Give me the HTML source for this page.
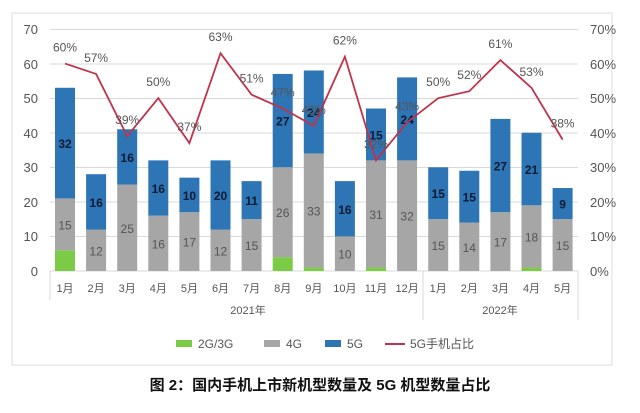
<!DOCTYPE html>
<html><head><meta charset="utf-8"><style>
body{margin:0;background:#fff;width:640px;height:408px;overflow:hidden}
text{font-family:"Liberation Sans","Noto Sans CJK SC",sans-serif}
</style></head><body>
<svg width="640" height="408" xmlns="http://www.w3.org/2000/svg">
<rect x="12" y="13" width="600" height="352" fill="#fff" stroke="#ddd"/>
<g stroke="#d9d9d9" stroke-width="1">
<line x1="50" x2="578" y1="29.5" y2="29.5"/><line x1="50" x2="578" y1="64" y2="64"/>
<line x1="50" x2="578" y1="98.5" y2="98.5"/><line x1="50" x2="578" y1="133" y2="133"/>
<line x1="50" x2="578" y1="167.5" y2="167.5"/><line x1="50" x2="578" y1="202" y2="202"/>
<line x1="50" x2="578" y1="236.5" y2="236.5"/>
<line x1="50" x2="578" y1="271" y2="271"/>
<line x1="50" x2="50" y1="271" y2="300"/><line x1="423" x2="423" y1="271" y2="320"/><line x1="578" x2="578" y1="271" y2="320"/>
</g>
<g font-size="13" fill="#555" text-anchor="end">
<text x="38" y="34">70</text><text x="38" y="69">60</text><text x="38" y="103">50</text><text x="38" y="138">40</text><text x="38" y="172">30</text><text x="38" y="207">20</text><text x="38" y="241">10</text><text x="38" y="276">0</text>
</g>
<g font-size="13" fill="#555">
<text x="590" y="34">70%</text><text x="590" y="69">60%</text><text x="590" y="103">50%</text><text x="590" y="138">40%</text><text x="590" y="172">30%</text><text x="590" y="207">20%</text><text x="590" y="241">10%</text><text x="590" y="276">0%</text>
</g>
<g id="bars"></g>
<script>
var g=document.getElementById('bars'),ns='http://www.w3.org/2000/svg';
var a=[6,0,0,0,0,0,0,4,1,0,1,0,0,0,0,1,0],b=[15,12,25,16,17,12,15,26,33,10,31,32,15,14,17,18,15],c=[32,16,16,16,10,20,11,27,24,16,15,24,15,15,27,21,9],p=[60,57,39,50,37,63,51,47,42,62,32,43,50,52,61,53,38];
var m=['1月','2月','3月','4月','5月','6月','7月','8月','9月','10月','11月','12月','1月','2月','3月','4月','5月'];
var k=3.457,Y=function(v){return 271-v*k};
function el(t,at,tx){var e=document.createElementNS(ns,t);for(var q in at)e.setAttribute(q,at[q]);if(tx!=null)e.textContent=tx;g.appendChild(e);return e;}
var pts=[];
for(var i=0;i<17;i++){var x=65+i*31.1,w=20;
el('rect',{x:x-w/2,y:Y(a[i]),width:w,height:a[i]*k,fill:'#7ccb46'});
el('rect',{x:x-w/2,y:Y(a[i]+b[i]),width:w,height:b[i]*k,fill:'#a6a6a6'});
el('rect',{x:x-w/2,y:Y(a[i]+b[i]+c[i]),width:w,height:c[i]*k,fill:'#2e75b6'});
el('text',{x:x,y:Y(a[i]+b[i]/2)+5,'font-size':12,fill:'#555','text-anchor':'middle'},b[i]);
el('text',{x:x,y:Y(a[i]+b[i]+c[i]/2)+5,'font-size':12,'font-weight':'bold',fill:'#0d1a33','text-anchor':'middle'},c[i]);
el('text',{x:x,y:292,'font-size':11,fill:'#555','text-anchor':'middle'},m[i]);
pts.push(x+','+Y(p[i]));}
el('polyline',{points:pts.join(' '),fill:'none',stroke:'#c0334a','stroke-width':1.8});
for(var i=0;i<17;i++){var x=65+i*31.1;el('text',{x:x,y:Y(p[i])-12,'font-size':12,fill:'#555','text-anchor':'middle'},p[i]+'%');}
</script>
<text x="248" y="314" font-size="11" fill="#555" text-anchor="middle">2021年</text>
<text x="500" y="314" font-size="11" fill="#555" text-anchor="middle">2022年</text>
<rect x="176" y="340" width="16" height="7" fill="#7ccb46"/><text x="198" y="348" font-size="12" fill="#555">2G/3G</text>
<rect x="264" y="340" width="16" height="7" fill="#a6a6a6"/><text x="286" y="348" font-size="12" fill="#555">4G</text>
<rect x="325" y="340" width="16" height="7" fill="#2e75b6"/><text x="347" y="348" font-size="12" fill="#555">5G</text>
<line x1="385" x2="405" y1="344" y2="344" stroke="#c0334a" stroke-width="2"/><text x="410" y="348" font-size="12" fill="#555">5G手机占比</text>
<text x="320" y="390" font-size="15" font-weight="bold" fill="#111" text-anchor="middle">图 2：国内手机上市新机型数量及 5G 机型数量占比</text>
</svg>
</body></html>
